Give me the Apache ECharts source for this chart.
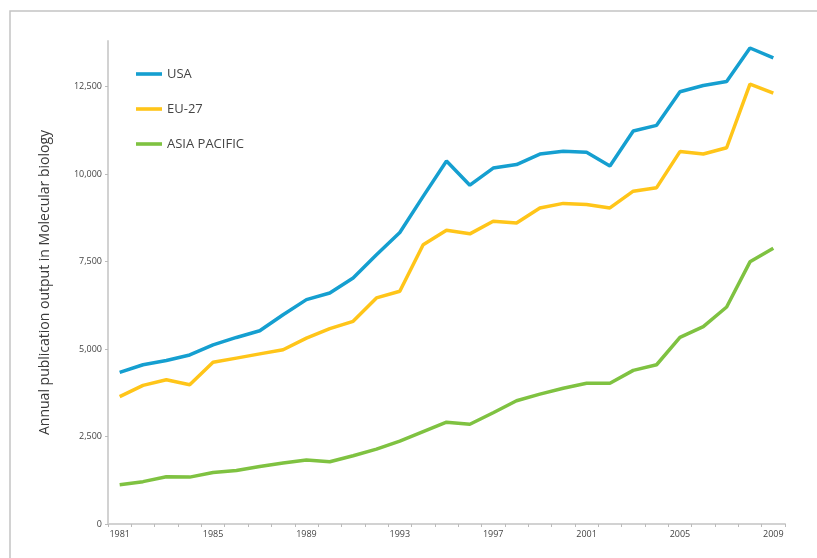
<!DOCTYPE html>
<html>
<head>
<meta charset="utf-8">
<script src="https://cdn.jsdelivr.net/npm/echarts@6/dist/echarts.min.js"></script>
<style>
  html, body { margin: 0; padding: 0; background: #fff; }
  #chart { width: 817px; height: 558px; }
</style>
</head>
<body>
<div id="chart"></div>
<script>
// years on the x axis
const years = [];
for (let y = 1981; y <= 2009; y++) years.push(String(y));

// annual publication output
const usa = [4330, 4550, 4670, 4830, 5120, 5330, 5520, 5980, 6410, 6600,
  7030, 7690, 8330, 9360, 10370, 9680, 10170, 10270, 10570, 10650,
  10620, 10230, 11230, 11390, 12350, 12530, 12640, 13600, 13320];
const eu27 = [3640, 3960, 4120, 3980, 4620, 4740, 4860, 4980, 5310, 5580,
  5790, 6460, 6650, 7980, 8390, 8290, 8650, 8600, 9030, 9160,
  9130, 9030, 9510, 9610, 10640, 10570, 10750, 12570, 12310];
const asiaPacific = [1120, 1210, 1350, 1340, 1470, 1530, 1640, 1740, 1830, 1780,
  1950, 2140, 2370, 2640, 2910, 2850, 3180, 3520, 3710, 3880,
  4020, 4020, 4390, 4550, 5330, 5640, 6200, 7490, 7880];

const yTicks = [0, 2500, 5000, 7500, 10000, 12500];

const chart = echarts.init(document.getElementById('chart'));
const textCol = '#444';
const axisCol = '#d2d2d2';
const font = 'Open Sans';

function line(name, data, color) {
  return {
    name: name,
    type: 'line',
    data: data,
    symbol: 'none',
    lineStyle: { color: color, width: 3.5 },
    itemStyle: { color: color }
  };
}

chart.setOption({
  backgroundColor: '#fff',
  animation: false,
  textStyle: { fontFamily: font },
  graphic: [{
    type: 'rect',
    shape: { x: 10, y: 11, width: 830, height: 580 },
    style: { fill: 'none', stroke: '#c4c4c4', lineWidth: 1.5 },
    silent: true
  }],
  grid: { left: 108, right: 32, top: 41, bottom: 34 },
  legend: {
    orient: 'vertical',
    left: 131,
    top: 62,
    // flat bar icon, padded so it keeps its thickness
    icon: 'path://M0,0L0,0M0,5.2H26V8.8H0ZM26,14L26,14',
    itemWidth: 26,
    itemHeight: 14,
    itemGap: 21,
    textStyle: { color: textCol, fontSize: 13, fontFamily: font },
    data: ['USA', 'EU-27', 'ASIA PACIFIC']
  },
  xAxis: {
    type: 'category',
    data: years,
    boundaryGap: true,
    axisLine: { lineStyle: { color: axisCol, width: 2 } },
    axisTick: { show: true, interval: 0, length: 3, lineStyle: { color: '#bbb' } },
    axisLabel: { interval: 3, color: textCol, fontSize: 9, margin: 6 },
    splitLine: { show: false }
  },
  yAxis: {
    type: 'value',
    min: 0,
    max: 13800,
    name: 'Annual publication output in Molecular biology',
    nameLocation: 'middle',
    nameGap: 56,
    nameRotate: 90,
    nameTextStyle: { color: '#3a3a3a', fontSize: 14, fontFamily: font },
    axisLine: { show: true, lineStyle: { color: axisCol, width: 2 } },
    axisTick: { show: true, length: 3, lineStyle: { color: '#bbb' }, customValues: yTicks },
    axisLabel: {
      color: textCol,
      fontSize: 9,
      margin: 6,
      customValues: yTicks,
      formatter: v => v.toLocaleString('en-US')
    },
    splitLine: { show: false }
  },
  series: [
    line('USA', usa, '#159fd0'),
    line('EU-27', eu27, '#ffc519'),
    line('ASIA PACIFIC', asiaPacific, '#7fc241')
  ]
});
</script>
</body>
</html>
